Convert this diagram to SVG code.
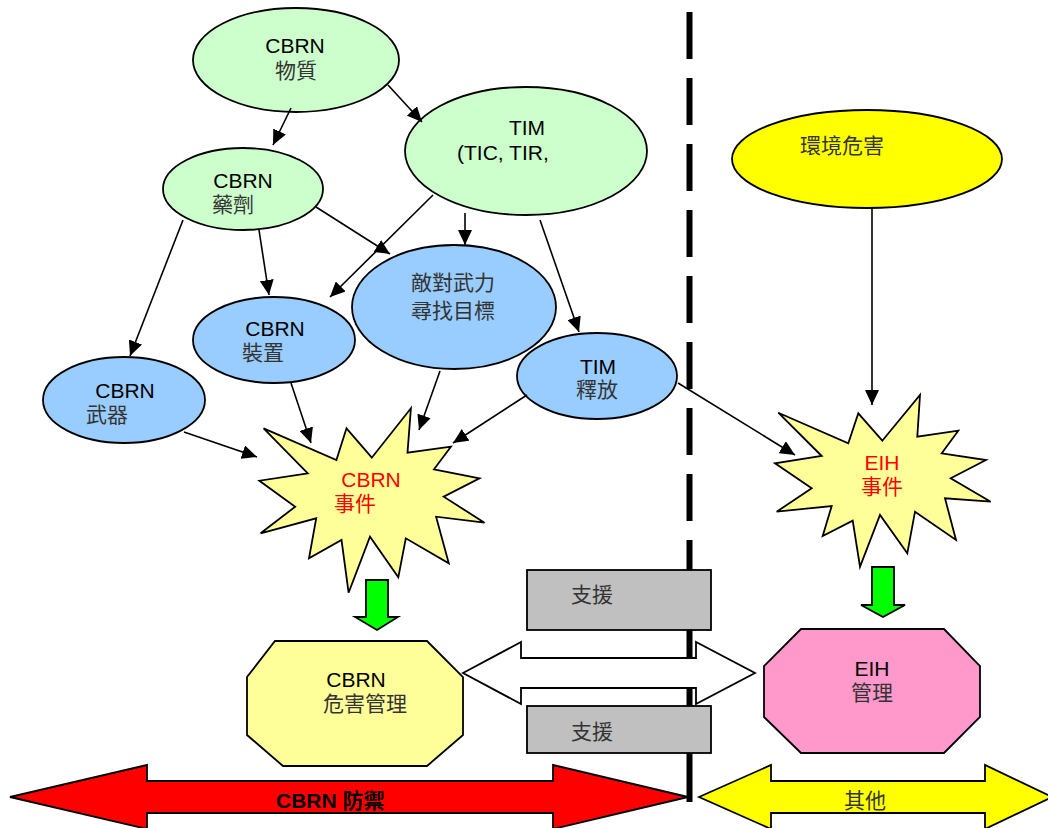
<svg xmlns="http://www.w3.org/2000/svg" width="1048" height="828" viewBox="0 0 1048 828">
<style>
text{font-family:"Liberation Sans","Noto Sans CJK TC",sans-serif;font-size:21px;fill:#000}
.cjk{fill:#333}
.red{fill:#ff0000}
.shape{stroke:#000;stroke-width:1.8}
.g{fill:#ccffcc}
.b{fill:#99ccff}
.y{fill:#ffff99}
.conn line{stroke:#000;stroke-width:1.6;marker-end:url(#ah)}
.mid{text-anchor:middle}
</style>
<defs>
<marker id="ah" markerUnits="userSpaceOnUse" markerWidth="16" markerHeight="14" refX="15" refY="7" orient="auto">
<path d="M0,0 L15,7 L0,14 z" fill="#000"/>
</marker>
</defs>
<rect width="1048" height="828" fill="#fff"/>

<g id="divider">
<line x1="689.5" y1="12" x2="689.5" y2="540" stroke="#000" stroke-width="6" stroke-dasharray="47 19"/>
<line x1="689.5" y1="540" x2="689.5" y2="802" stroke="#000" stroke-width="6"/>
</g>

<g id="n-substance"><ellipse class="shape g" cx="296" cy="60" rx="103" ry="52"/>
<text class="mid" x="295" y="53">CBRN</text><text class="mid cjk" x="296" y="78">物質</text></g>

<g id="n-tim"><ellipse class="shape g" cx="526" cy="151" rx="121" ry="64"/>
<text class="mid" x="527" y="135">TIM</text><text x="457" y="160">(TIC, TIR,</text></g>

<g id="n-agent"><ellipse class="shape g" cx="243" cy="189" rx="80" ry="41"/>
<text class="mid" x="243" y="188">CBRN</text><text class="cjk" x="212" y="212">藥劑</text></g>

<g id="n-hostile"><ellipse class="shape b" cx="454" cy="307" rx="102" ry="62"/>
<text class="mid cjk" x="453" y="290">敵對武力</text><text class="mid cjk" x="453" y="318">尋找目標</text></g>

<g id="n-device"><ellipse class="shape b" cx="274" cy="340" rx="81" ry="43"/>
<text class="mid" x="275" y="336">CBRN</text><text class="cjk" x="242" y="360">裝置</text></g>

<g id="n-weapon"><ellipse class="shape b" cx="124" cy="400" rx="81" ry="43"/>
<text class="mid" x="125" y="398">CBRN</text><text class="cjk" x="86" y="422">武器</text></g>

<g id="n-release"><ellipse class="shape b" cx="597" cy="376" rx="80" ry="43"/>
<text class="mid" x="598" y="374">TIM</text><text class="mid cjk" x="597" y="397">釋放</text></g>

<g id="n-env"><ellipse class="shape" fill="#ffff00" cx="867" cy="159" rx="135" ry="49"/>
<text class="mid cjk" x="842" y="153">環境危害</text></g>

<g id="n-cbrn-event"><polygon class="shape y" points="263.6,428.3 336.4,460 346.5,428.3 371.8,457.7 410.9,408.3 407.5,452.7 450.9,446.7 434,469.3 479.5,478.3 443.7,496.7 484.5,522.7 436.1,516.7 448.8,563.3 405.8,538.3 398.3,577.3 370,536.7 348.6,592.7 341.5,540 309,558.3 316.2,518.3 260.6,533.3 295.2,506.7 259.4,480.7 307.8,473.3"/>
<text class="mid red" x="371" y="487">CBRN</text><text class="red" x="334" y="511">事件</text></g>

<g id="n-eih-event"><polygon class="shape y" points="778.3,412.7 848.3,443.3 858.3,413.3 882.3,440.7 920,395 917.3,436.7 958.3,430.7 941.7,453.3 986,460 950.7,478.3 990.7,501.7 945,498.3 956,540 915,511.7 907.3,553.3 880,515 860,566.7 852.7,520.7 822.7,536 831.7,506 776.7,511.7 811.7,488.3 775,463.3 821.7,456"/>
<text class="mid red" x="882" y="470">EIH</text><text class="mid red" x="882" y="494">事件</text></g>

<g id="n-cbrn-mgmt"><polygon class="shape y" points="275,641 427,641 463,677 463,735 427,766 283,766 247,735 247,677"/>
<text class="mid" x="356" y="687">CBRN</text><text class="mid cjk" x="365" y="711">危害管理</text></g>

<g id="n-eih-mgmt"><polygon class="shape" fill="#ff99cc" points="801,629 944,629 980,666 980,717 944,753 801,753 764,717 764,666"/>
<text class="mid" x="872" y="676">EIH</text><text class="mid cjk" x="872" y="700">管理</text></g>

<g id="n-flow-cbrn"><polygon class="shape" fill="#00ff00" points="366,580 388,580 388,617 398,617 377,630 355,617 366,617"/></g>
<g id="n-flow-eih"><polygon class="shape" fill="#00ff00" points="872,567 894,567 894,605 905,605 883,617 861,605 872,605"/></g>

<g id="n-support-arrow"><polygon class="shape" fill="#fff" points="463,673 521,642 521,658 696,658 696,642 755,673 696,704 696,688 521,688 521,704"/></g>

<g id="n-support1"><rect class="shape" fill="#c0c0c0" x="527" y="570" width="184" height="60"/>
<text class="mid cjk" x="592" y="602">支援</text></g>
<g id="n-support2"><rect class="shape" fill="#c0c0c0" x="527" y="706" width="184" height="47"/>
<text class="mid cjk" x="592" y="739">支援</text></g>

<g id="n-cbrn-defense"><polygon class="shape" fill="#ff0000" points="10,797 147,765 147,781 553,781 553,765 688,797 553,829 553,813 147,813 147,829"/>
<text x="276" y="808" style="font-weight:bold">CBRN 防禦</text></g>

<g id="n-other"><polygon class="shape" fill="#ffff00" points="699,797 771,765 771,781 985,781 985,765 1052,797 985,829 985,813 771,813 771,829"/>
<text class="mid cjk" x="865" y="808">其他</text></g>

<g id="connectors" class="conn">
<line x1="291" y1="108" x2="273" y2="145"/>
<line x1="388" y1="85" x2="422" y2="122"/>
<line x1="183" y1="220" x2="130" y2="356"/>
<line x1="259" y1="230" x2="269" y2="295"/>
<line x1="316" y1="207" x2="390" y2="254"/>
<line x1="433" y1="195" x2="330" y2="297"/>
<line x1="465" y1="213" x2="465" y2="245"/>
<line x1="540" y1="220" x2="579" y2="332"/>
<line x1="184" y1="432" x2="257" y2="457"/>
<line x1="291" y1="383" x2="311" y2="443"/>
<line x1="440" y1="371" x2="419" y2="430"/>
<line x1="527" y1="395" x2="453" y2="443"/>
<line x1="678" y1="383" x2="795" y2="455"/>
<line x1="872" y1="208" x2="872" y2="405"/>
</g>
</svg>
